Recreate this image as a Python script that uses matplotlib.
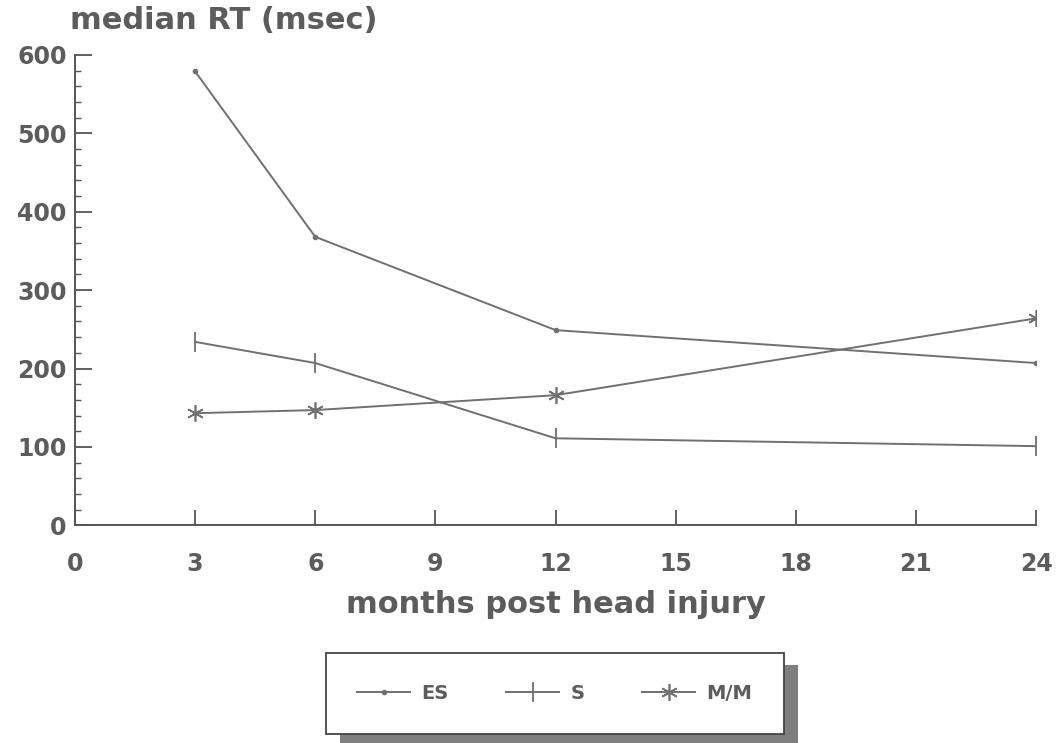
import matplotlib.pyplot as plt
from matplotlib.patches import Rectangle
from matplotlib.ticker import MultipleLocator

months = [3, 6, 12, 24]
es_rt = [579, 368, 249, 207]
s_rt = [234, 207, 111, 101]
mm_rt = [143, 147, 166, 264]

x_ticks = [0, 3, 6, 9, 12, 15, 18, 21, 24]
y_ticks = [0, 100, 200, 300, 400, 500, 600]

plt.rcParams['font.family'] = ['DejaVu Sans']
plt.rcParams['font.weight'] = 'bold'

line_col = '#707070'
text_col = '#5c5c5c'
axis_col = '#555555'

fig = plt.figure(figsize=(10.62, 7.43), dpi=100)
ax = fig.add_axes([0.0706, 0.293, 0.905, 0.633])

ax.plot(months, es_rt, color=line_col, lw=1.4, marker='.', ms=6, label='ES')
ax.plot(months, s_rt, color=line_col, lw=1.4, marker='|', ms=14, mew=1.3, label='S')
ax.plot(months, mm_rt, color=line_col, lw=1.4, marker=(6, 2, 0), ms=12, mew=1.2, label='M/M')

ax.set_xlim(0, 24)
ax.set_ylim(0, 600)
ax.set_xticks(x_ticks)
ax.set_yticks(y_ticks)
ax.yaxis.set_minor_locator(MultipleLocator(20))

for side in ['top', 'right']:
    ax.spines[side].set_visible(False)
for side in ['left', 'bottom']:
    ax.spines[side].set_color(axis_col)
    ax.spines[side].set_linewidth(1.4)

ax.tick_params(axis='x', direction='in', length=11, width=1.3, color=axis_col,
               labelsize=17, labelcolor=text_col, pad=19)
ax.tick_params(axis='y', which='major', direction='in', length=12, width=1.3,
               color=axis_col, labelsize=17, labelcolor=text_col, pad=6)
ax.tick_params(axis='y', which='minor', direction='in', length=4, width=1.0,
               color=axis_col)

ax.set_xlabel('months post head injury', fontsize=22, color=text_col,
              fontweight='bold', labelpad=10)
fig.text(0.066, 0.972, 'median RT (msec)', fontsize=22, color=text_col,
         fontweight='bold', ha='left', va='center')

leg = fig.legend(loc='center', bbox_to_anchor=(0.298, 0.013, 0.449, 0.108),
                 mode='expand', ncol=3, frameon=True, fancybox=False,
                 fontsize=14, handlelength=2.7, borderpad=1.6,
                 handletextpad=0.6, edgecolor='#444444', facecolor='white',
                 framealpha=1)
for t in leg.get_texts():
    t.set_color(text_col)
leg.get_frame().set_linewidth(1.3)
leg.set_zorder(5)

# drop shadow behind the legend box
fig.canvas.draw()
bb = leg.get_window_extent().transformed(fig.transFigure.inverted())
dx, dy = 14 / 1062, 12 / 743
fig.patches.append(Rectangle((bb.x0 + dx, bb.y0 - dy), bb.width, bb.height,
                             transform=fig.transFigure, facecolor='#7e7e7e',
                             edgecolor='none', zorder=1))

fig.savefig('out.png', dpi=100)
